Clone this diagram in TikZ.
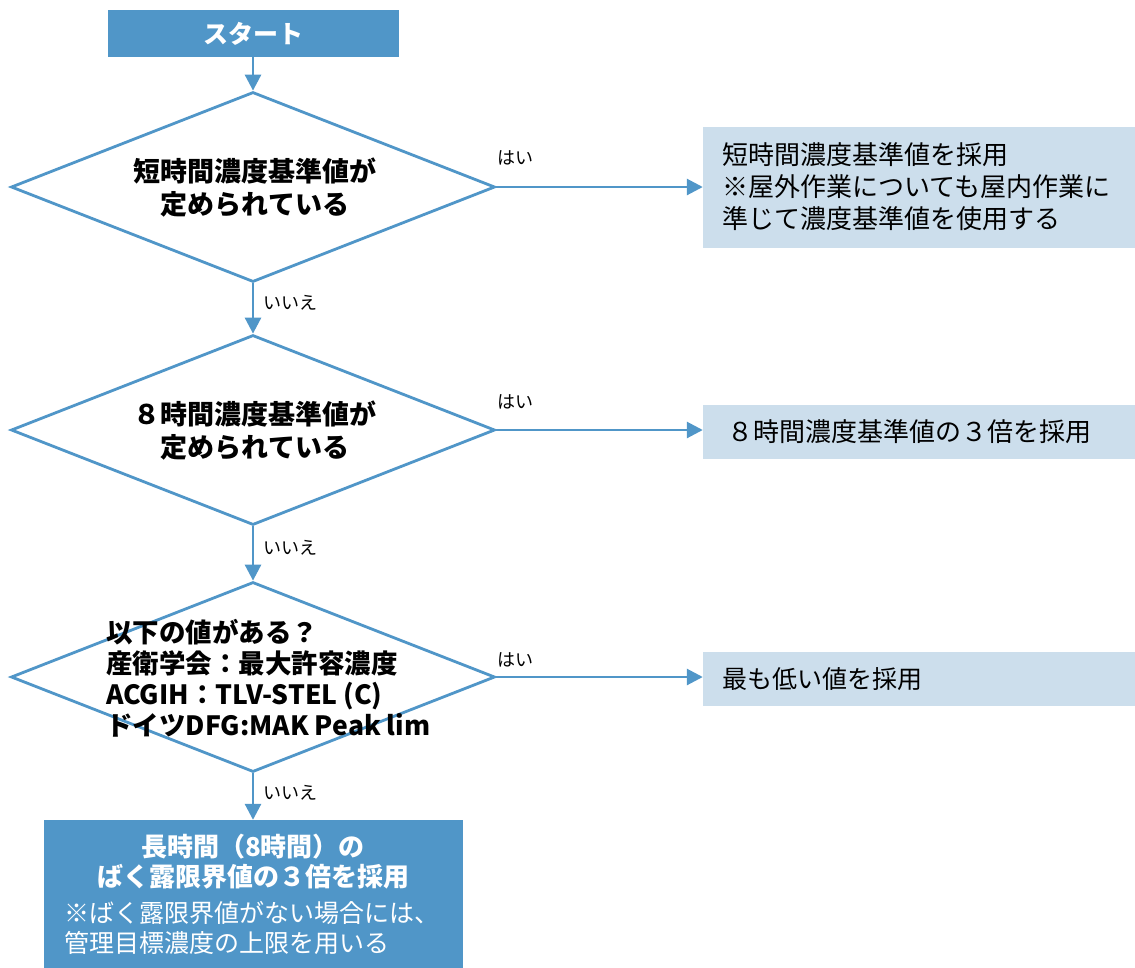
\documentclass[tikz,border=0pt]{standalone}
\usepackage{fontspec}
\setmainfont{Noto Sans CJK JP}
\usetikzlibrary{shapes.geometric,arrows.meta}
\definecolor{mainblue}{RGB}{80,150,200}
\definecolor{lightblue}{RGB}{204,222,236}
\tikzset{
  dia/.style={shape=diamond,draw=mainblue,line width=2.8pt,minimum width=484pt,minimum height=190pt,inner sep=0pt,fill=white},
  darkbox/.style={rectangle,fill=mainblue,inner sep=0pt},
  lightbox/.style={rectangle,fill=lightblue,inner sep=0pt,minimum width=432pt},
  conn/.style={draw=mainblue,line width=2.8pt,-{Triangle[length=16pt,width=16pt]}},
  yes/.style={font=\fontsize{18}{22}\selectfont,inner sep=0pt},
  dtext/.style={font=\fontsize{27}{33}\selectfont\bfseries,align=center,inner sep=0pt},
  btext/.style={font=\fontsize{26}{32}\selectfont,align=left,inner sep=0pt},
}
\begin{document}
\begin{tikzpicture}[x=1pt,y=-1pt]
\useasboundingbox (0,0) rectangle (1135,967);
% start
\node[darkbox,minimum width=291pt,minimum height=47pt,text=white,font=\fontsize{25}{30}\selectfont\bfseries] (start) at (253,33.5) {スタート};
% diamonds
\node[dia] (d1) at (253,187) {};
\node[dtext] (t1) at (255,188) {短時間濃度基準値が\\定められている};
\node[dia] (d2) at (253,430) {};
\node[dtext] (t2) at (255,431) {８時間濃度基準値が\\定められている};
\node[dia] (d3) at (253,677) {};
\node[font=\fontsize{26.5}{31}\selectfont\bfseries,align=left,inner sep=0pt,anchor=west] (t3) at (106,678) {以下の値がある？\\産衛学会：最大許容濃度\\ACGIH：TLV-STEL (C)\\ドイツDFG:MAK Peak lim};
% right boxes
\node[lightbox,minimum height=121pt] (r1) at (919,187.5) {};
\node[btext,anchor=west] (r1t) at (722,187) {短時間濃度基準値を採用\\※屋外作業についても屋内作業に\\準じて濃度基準値を使用する};
\node[lightbox,minimum height=54pt] (r2) at (919,432) {};
\node[btext,anchor=west] (r2t) at (727,432) {８時間濃度基準値の３倍を採用};
\node[lightbox,minimum height=54pt] (r3) at (919,679) {};
\node[btext,anchor=west,font=\fontsize{25}{32}\selectfont] (r3t) at (722,679) {最も低い値を採用};
% bottom box
\node[darkbox,minimum width=419pt,minimum height=150pt] (bot) at (253,895) {};
\node[dtext,text=white,font=\fontsize{26}{30}\selectfont\bfseries] (bt1) at (253,862) {長時間（8時間）の\\ばく露限界値の３倍を採用};
\node[btext,text=white,anchor=west,font=\fontsize{25}{30}\selectfont] (bt2) at (64,928) {※ばく露限界値がない場合には、\\管理目標濃度の上限を用いる};
% connectors
\draw[conn] (start.south) -- (d1.north);
\draw[conn] (d1.south) -- (d2.north);
\draw[conn] (d2.south) -- (d3.north);
\draw[conn] (d3.south) -- (bot.north);
\draw[conn] (d1.east) -- (d1.east -| r1.west);
\draw[conn] (d2.east) -- (d2.east -| r2.west);
\draw[conn] (d3.east) -- (d3.east -| r3.west);
% labels
\node[yes,anchor=west] (y1) at (497,158) {はい};
\node[yes,anchor=west] (y2) at (497,402) {はい};
\node[yes,anchor=west] (y3) at (497,660) {はい};
\node[yes,anchor=west] (n1) at (263,303) {いいえ};
\node[yes,anchor=west] (n2) at (263,548) {いいえ};
\node[yes,anchor=west] (n3) at (263,793) {いいえ};
\end{tikzpicture}
\end{document}
